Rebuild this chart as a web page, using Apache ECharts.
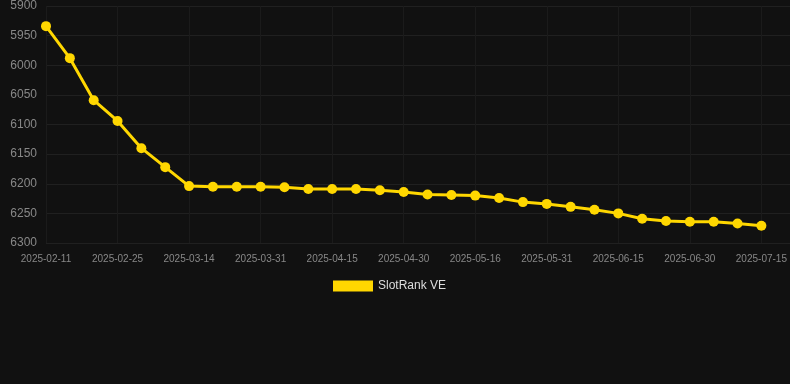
<!DOCTYPE html>
<html>
<head>
<meta charset="utf-8">
<script src="https://cdn.jsdelivr.net/npm/echarts@6/dist/echarts.min.js"></script>
<style>
  html, body { margin: 0; padding: 0; background: #111111; }
  #main { width: 790px; height: 384px; }
</style>
</head>
<body>
<div id="main"></div>
<script>
var dates = [
  '2025-02-11', '2025-02-16', '2025-02-20', '2025-02-25', '2025-03-01', '2025-03-08',
  '2025-03-14', '2025-03-20', '2025-03-25', '2025-03-31', '2025-04-05', '2025-04-10',
  '2025-04-15', '2025-04-20', '2025-04-25', '2025-04-30', '2025-05-06', '2025-05-11',
  '2025-05-16', '2025-05-21', '2025-05-26', '2025-05-31', '2025-06-05', '2025-06-10',
  '2025-06-15', '2025-06-20', '2025-06-25', '2025-06-30', '2025-07-05', '2025-07-10',
  '2025-07-15'
];
var rankValues = [
  5934, 5988, 6059, 6094, 6140, 6172,
  6204, 6205, 6205, 6205, 6206, 6209,
  6209, 6209, 6211, 6214, 6218, 6219,
  6220, 6224, 6231, 6234, 6239, 6244,
  6250, 6259, 6263, 6264, 6264, 6267,
  6271
];
var seriesName = 'SlotRank VE';

var chartDom = document.getElementById('main');
var myChart = echarts.init(chartDom);
var option;
option = {
  backgroundColor: '#111111',
  animation: false,
  grid: { left: 46, right: 0, top: 6, bottom: 141 },
  legend: {
    data: [seriesName],
    top: 275,
    left: 328,
    icon: 'rect',
    itemWidth: 40,
    itemHeight: 11,
    textStyle: { color: '#dddddd', fontSize: 12 }
  },
  xAxis: {
    type: 'value',
    min: 0,
    max: 31.2,
    interval: 3,
    axisLine: { show: false },
    axisTick: { show: false },
    splitLine: { show: true, lineStyle: { color: '#1b1b1b' } },
    axisLabel: {
      color: '#888888',
      fontSize: 10,
      margin: 11,
      showMaxLabel: false,
      formatter: function (v) { return dates[v] || ''; }
    }
  },
  yAxis: {
    type: 'value',
    inverse: true,
    min: 5900,
    max: 6300,
    interval: 50,
    axisLine: { show: false },
    axisTick: { show: false },
    splitLine: { lineStyle: { color: '#202020' } },
    axisLabel: {
      color: '#888888',
      fontSize: 12,
      margin: 9,
      formatter: function (v) { return String(v); }
    }
  },
  series: [
    {
      name: seriesName,
      type: 'line',
      data: rankValues.map(function (v, i) { return [i, v]; }),
      symbol: 'circle',
      symbolSize: 10,
      lineStyle: { width: 3, color: '#FFD700' },
      itemStyle: { color: '#FFD700' }
    }
  ]
};
option && myChart.setOption(option);
</script>
</body>
</html>
